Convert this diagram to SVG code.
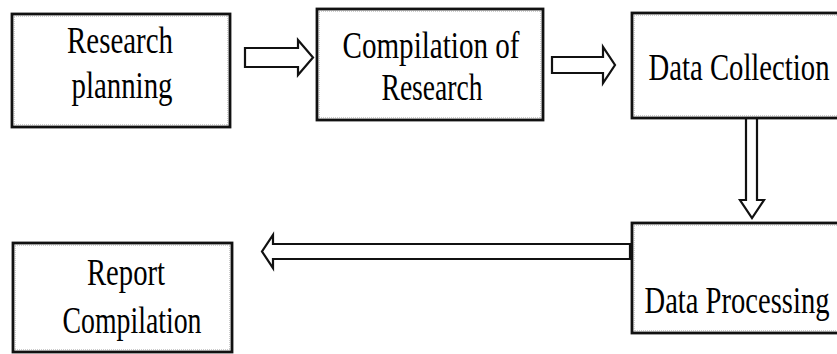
<svg xmlns="http://www.w3.org/2000/svg" width="837" height="354" viewBox="0 0 837 354">
<style>
.box{fill:#fff;stroke:#111;stroke-width:2.8}
.inner{fill:none;stroke:#999;stroke-width:1;stroke-dasharray:1 1}
.arr{fill:#fff;stroke:#111;stroke-width:2.2;stroke-linejoin:miter}
text{font-family:"Liberation Serif","Times New Roman",serif;font-size:38px;fill:#000;text-anchor:middle}
</style>
<rect width="837" height="354" fill="#fff"/>
<g id="connectors">
<polygon class="arr" points="245,48 298,48 298,40 313,57.5 298,75 298,67 245,67"/>
<polygon class="arr" points="552,57 603,57 603,47 615,65 603,83 603,73 552,73"/>
<polygon class="arr" points="746,118 757,118 757,200 764,200 752,218 740,200 746,200"/>
<polygon class="arr" points="630,244 630,259 273,259 273,268 262,251.5 273,235 273,244"/>
</g>
<g id="research-planning">
<rect class="box" x="12" y="14" width="218" height="113"/>
<rect class="inner" x="14" y="16" width="214" height="109"/>
<text x="120" y="53" textLength="106" lengthAdjust="spacingAndGlyphs">Research</text>
<text x="122" y="98" textLength="101" lengthAdjust="spacingAndGlyphs">planning</text>
</g>
<g id="compilation-of-research">
<rect class="box" x="317" y="9" width="226" height="111"/>
<rect class="inner" x="319" y="11" width="222" height="107"/>
<text x="431" y="58" textLength="177" lengthAdjust="spacingAndGlyphs">Compilation of</text>
<text x="432" y="100" textLength="101" lengthAdjust="spacingAndGlyphs">Research</text>
</g>
<g id="data-collection">
<rect class="box" x="632" y="13" width="215" height="105"/>
<rect class="inner" x="634" y="15" width="211" height="101"/>
<text x="739" y="80" textLength="181" lengthAdjust="spacingAndGlyphs">Data Collection</text>
</g>
<g id="data-processing">
<rect class="box" x="632" y="223" width="215" height="110"/>
<rect class="inner" x="634" y="225" width="211" height="106"/>
<text x="737" y="313" textLength="185" lengthAdjust="spacingAndGlyphs">Data Processing</text>
</g>
<g id="report-compilation">
<rect class="box" x="13" y="243" width="219" height="109"/>
<rect class="inner" x="15" y="245" width="215" height="105"/>
<text x="126" y="285" textLength="78" lengthAdjust="spacingAndGlyphs">Report</text>
<text x="132" y="333" textLength="139" lengthAdjust="spacingAndGlyphs">Compilation</text>
</g>
</svg>
